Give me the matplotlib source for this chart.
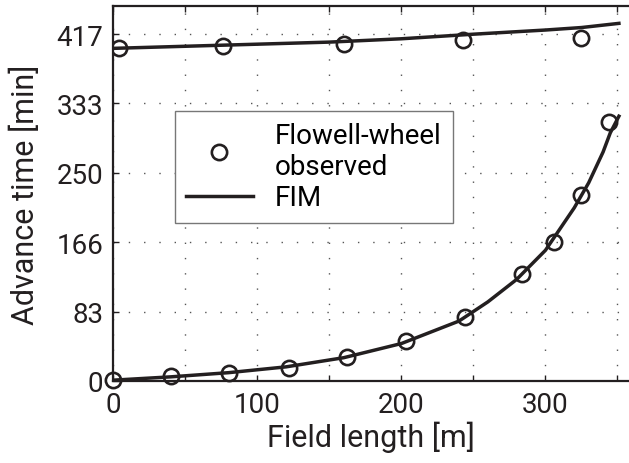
import matplotlib
matplotlib.use("Agg")
import matplotlib.pyplot as plt

# observed advance (Flowell-wheel), lower curve
obs_x = [0, 40, 80, 122, 162, 203, 244, 284, 306, 325, 344]
obs_t = [1.0, 5.6, 10.0, 15.2, 28.8, 48.4, 76.4, 128.5, 166.5, 223.7, 310.6]

# observed recession, upper curve
rec_x = [4, 76, 160, 243, 325]
rec_t = [399.5, 402, 405, 409.2, 411.7]

# FIM simulation
fim_adv_x = [0, 40, 80, 120, 160, 200, 240, 260, 280, 300, 320, 330, 340, 345, 351]
fim_adv_t = [1, 5, 10, 17, 28, 45, 72, 95, 122, 157, 208, 238, 275, 298, 318]
fim_rec_x = [0, 50, 100, 150, 200, 250, 300, 325, 351]
fim_rec_t = [399.5, 402, 404.5, 407, 411, 416.5, 421.5, 424.5, 429.5]

yticks = [0, 416.67 / 5, 2 * 416.67 / 5, 3 * 416.67 / 5, 4 * 416.67 / 5, 416.67]
ylabels = ["0", "83", "166", "250", "333", "417"]
xticks = [0, 50, 100, 150, 200, 250, 300, 350]
xlabels = ["0", "", "100", "", "200", "", "300", ""]

ink = "#231f20"
plt.rcParams["font.family"] = ["Roboto", "DejaVu Sans"]

fig = plt.figure(figsize=(6.29, 4.64), dpi=100)
ax = fig.add_axes([113.3 / 629, 1 - 382 / 464, (629 - 113.3) / 629, (382 - 7.3) / 464])

ax.plot(fim_adv_x, fim_adv_t, color=ink, lw=2.5, label="FIM", zorder=3)
ax.plot(fim_rec_x, fim_rec_t, color=ink, lw=2.5, zorder=3)
ax.plot(obs_x, obs_t, "o", ms=11, mfc="none", mec=ink, mew=1.9,
        label="Flowell-wheel\nobserved", zorder=4, clip_on=False)
ax.plot(rec_x, rec_t, "o", ms=11, mfc="none", mec=ink, mew=1.9, zorder=4)

ax.set_xlim(0, 358)
ax.set_ylim(0, 450)
ax.set_xticks(xticks)
ax.set_xticklabels(xlabels)
ax.set_yticks(yticks)
ax.set_yticklabels(ylabels)
ax.tick_params(direction="in", top=True, right=False, length=4, width=1,
               labelsize=20, colors=ink, pad=7)
ax.grid(True, linestyle=(0, (1, 10)), color="#555555", lw=1)
for s in ["left", "bottom", "top"]:
    ax.spines[s].set_linewidth(1.6)
    ax.spines[s].set_color(ink)
ax.spines["right"].set_visible(False)

ax.set_xlabel("Field length [m]", fontsize=22, color=ink, labelpad=2)
ax.set_ylabel("Advance time [min]", fontsize=22, color=ink, labelpad=12)

handles, labels = ax.get_legend_handles_labels()
leg = ax.legend(handles[::-1], labels[::-1], loc="upper left",
                bbox_to_anchor=(0.1196, 0.7206), fontsize=20, frameon=True,
                fancybox=False, edgecolor="#777777", framealpha=1,
                handlelength=2.4, borderpad=0.4, labelspacing=0.15,
                handletextpad=0.8, borderaxespad=0)
leg.get_frame().set_linewidth(1.0)

fig.savefig("out.png", dpi=100)
